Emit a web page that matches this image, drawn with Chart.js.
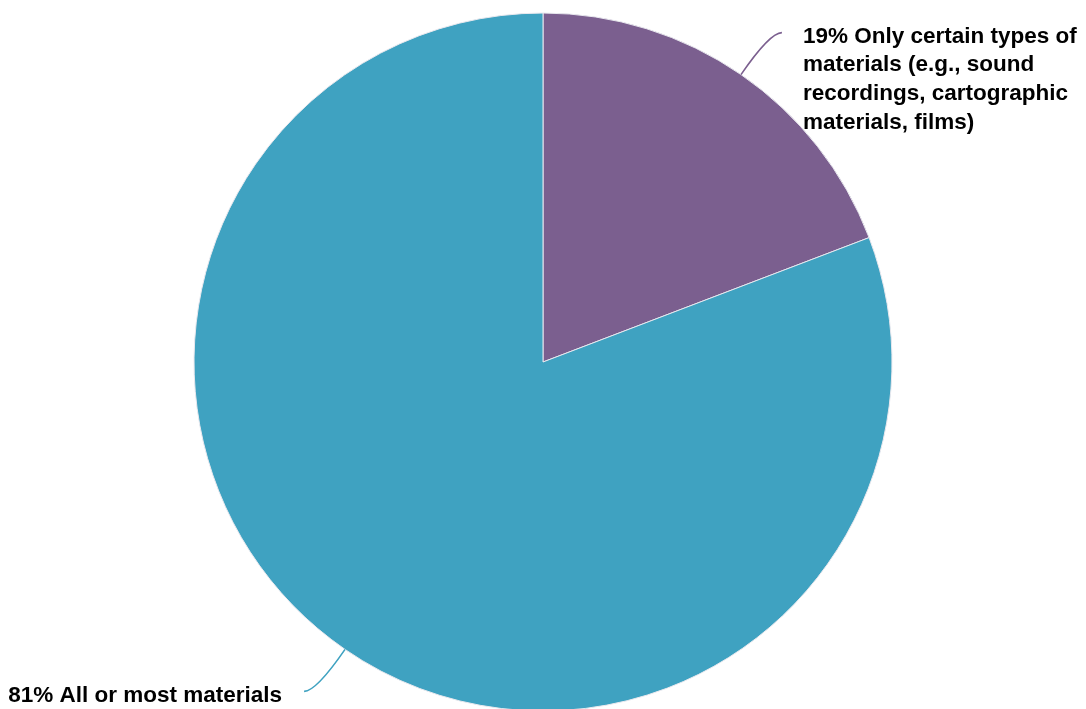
<!DOCTYPE html>
<html>
<head>
<meta charset="utf-8">
<script src="https://cdn.jsdelivr.net/npm/chart.js@4/dist/chart.umd.min.js"></script>
<style>
  html, body { margin: 0; padding: 0; background: #ffffff; overflow: hidden; }
  #wrap { width: 1086px; height: 711px; }
</style>
</head>
<body>
<div id="wrap"><canvas id="pieChart"></canvas></div>
<script>
// chart data
const labels = [
    ['19% Only certain types of', 'materials (e.g., sound', 'recordings, cartographic', 'materials, films)'],
    ['81% All or most materials']
];
const values = [19.2, 80.8];
const colors = ['#7b5f8f', '#3fa2c1'];

// draws the leader lines and the text next to each slice
const calloutPlugin = {
    id: 'callouts',
    afterDatasetsDraw: function(chart) {
        const ctx = chart.ctx;
        const meta = chart.getDatasetMeta(0);
        meta.data.forEach(function(arc, i) {
            const mid = (arc.startAngle + arc.endAngle) / 2;
            const r = arc.outerRadius;
            const cos = Math.cos(mid), sin = Math.sin(mid);
            const sx = arc.x + cos * r, sy = arc.y + sin * r;
            const cx = arc.x + cos * (r + 51), cy = arc.y + sin * (r + 51);
            const right = cos >= 0;
            const ex = cx + (right ? 12 : -12), ey = cy;

            ctx.save();
            ctx.strokeStyle = colors[i];
            ctx.lineWidth = 1.6;
            ctx.beginPath();
            ctx.moveTo(sx, sy);
            ctx.quadraticCurveTo(cx, cy, ex, ey);
            ctx.stroke();

            ctx.fillStyle = '#000000';
            ctx.font = 'bold 22.5px "Liberation Sans", Arial, sans-serif';
            ctx.textBaseline = 'middle';
            ctx.textAlign = right ? 'left' : 'right';
            const tx = right ? ex + 21 : ex - 22;
            labels[i].forEach(function(line, k) {
                ctx.fillText(line, tx, ey + 4 + k * 28.7);
            });
            ctx.restore();
        });
    }
};

new Chart(document.getElementById('pieChart'), {
    type: 'pie',
    data: {
        labels: labels,
        datasets: [{
            data: values,
            backgroundColor: colors,
            borderColor: '#e8e8ee',
            borderWidth: 1,
            radius: 349
        }]
    },
    options: {
        responsive: true,
        maintainAspectRatio: false,
        animation: false,
        layout: { padding: { top: 13, bottom: 0, left: 0, right: 0 } },
        plugins: {
            legend: { display: false },
            tooltip: { enabled: false }
        }
    },
    plugins: [calloutPlugin]
});
</script>
</body>
</html>
